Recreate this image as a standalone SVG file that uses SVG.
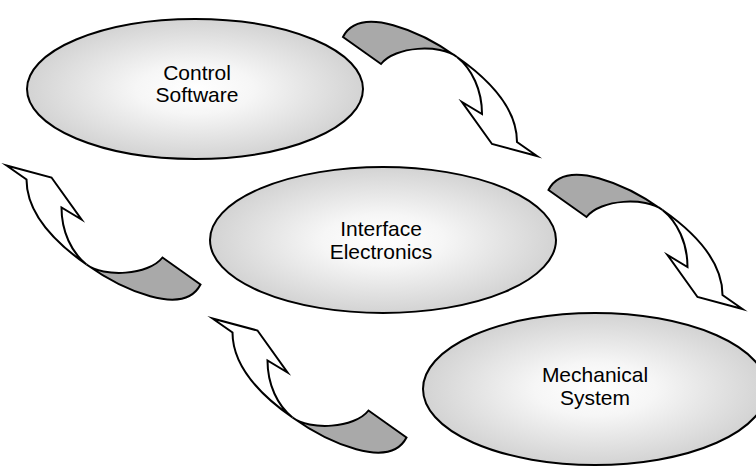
<svg xmlns="http://www.w3.org/2000/svg" xmlns:xlink="http://www.w3.org/1999/xlink" width="756" height="467" viewBox="0 0 756 467">
<style>
.node{stroke:#000;stroke-width:2;fill:url(#shade)}
.lbl{font-family:"Liberation Sans",Arial,Helvetica,sans-serif;font-size:21px;fill:#000;text-anchor:middle}
.back{fill:#a9a9a9;stroke:#000;stroke-width:2;stroke-linejoin:miter;stroke-miterlimit:10}
.front{fill:#fff;stroke:#000;stroke-width:2;stroke-linejoin:miter;stroke-miterlimit:10}
</style>
<defs>
<radialGradient id="shade" cx="0.5" cy="0.5" r="0.5">
<stop offset="0" stop-color="#ffffff"/>
<stop offset="0.35" stop-color="#f6f6f6"/>
<stop offset="1" stop-color="#d3d3d3"/>
</radialGradient>
<g id="twist">
<path class="back" d="M343,37 C360,4 422,32 457,57 C440,44 395,46 381,64 Z"/>
<path class="front" d="M457,57 C497,85 517,113 517,142 L537,156 L492,144 L462,102 L482,114 C482,90 472,69 457,57 Z"/>
</g>
</defs>
<rect width="756" height="467" fill="#fff"/>
<g id="control-software">
<ellipse class="node" cx="195" cy="89" rx="168" ry="70"/>
<text class="lbl" x="197" y="80">Control</text>
<text class="lbl" x="197" y="102">Software</text>
</g>
<g id="interface-electronics">
<ellipse class="node" cx="383" cy="240" rx="173" ry="73"/>
<text class="lbl" x="381" y="235.5">Interface</text>
<text class="lbl" x="381" y="258.5">Electronics</text>
</g>
<g id="mechanical-system">
<ellipse class="node" cx="595" cy="389" rx="172" ry="76"/>
<text class="lbl" x="595" y="382">Mechanical</text>
<text class="lbl" x="595" y="405">System</text>
</g>
<g id="connectors">
<use xlink:href="#twist"/>
<use xlink:href="#twist" transform="translate(205.5,153)"/>
<use xlink:href="#twist" transform="translate(543.5,321.5) rotate(180)"/>
<use xlink:href="#twist" transform="translate(749.5,474.5) rotate(180)"/>
</g>
</svg>
